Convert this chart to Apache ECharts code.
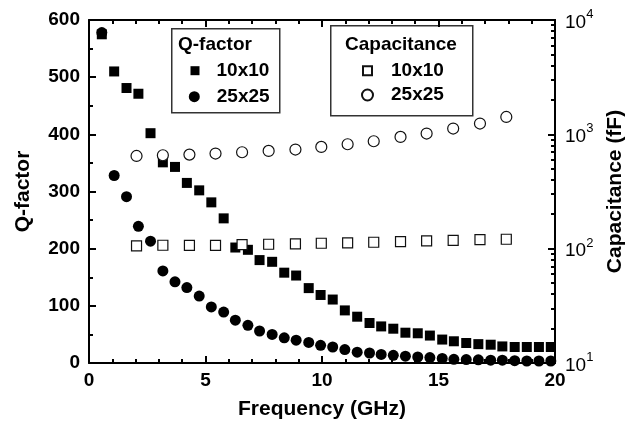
<!DOCTYPE html>
<html>
<head>
<meta charset="utf-8">
<script src="https://cdn.jsdelivr.net/npm/echarts@6/dist/echarts.min.js"></script>
<style>
html,body{margin:0;padding:0;background:#fff;}
#chart{width:635px;height:423px;}
</style>
</head>
<body>
<div id="chart"></div>
<script>
// ---- data ----
const freqQ = [0.55, 1.08, 1.61, 2.12, 2.64, 3.17, 3.69, 4.20, 4.73, 5.25, 5.78, 6.28, 6.82, 7.32, 7.86, 8.38, 8.89, 9.43, 9.94, 10.46,
  10.98, 11.51, 12.04, 12.54, 13.06, 13.58, 14.11, 14.63, 15.16, 15.66, 16.19, 16.71, 17.24, 17.74, 18.27, 18.79, 19.31, 19.82];
const q10 = [575, 510, 481, 471, 402, 351, 343, 315, 302, 281, 253, 202, 198, 180, 177, 158, 153, 131, 119, 111,
  92, 81, 70, 64, 60, 53, 52, 48, 41, 38, 35, 33, 32, 29, 28, 28, 28, 28];
const q25 = [578, 328, 291, 239, 213, 161, 142, 132, 117, 98, 89, 75, 66, 56, 50, 44, 40, 36, 31, 28,
  23.5, 19, 17.5, 15, 13.5, 12, 10.5, 9.5, 8, 6.5, 6, 5.5, 5, 5, 4, 3.5, 3.5, 3.5];
const freqC = [2.04, 3.17, 4.31, 5.43, 6.57, 7.71, 8.86, 9.97, 11.10, 12.22, 13.37, 14.49, 15.63, 16.78, 17.91];
const c10 = [105.6, 107.1, 107, 107, 108.6, 109.3, 110, 111.5, 112.2, 113.8, 115.4, 116.8, 118.4, 120.2, 120.9];
const c25 = [647, 656, 665, 679, 697, 716, 736, 776, 819, 870, 949, 1016, 1124, 1243, 1419];
const xTicks = [0, 5, 10, 15, 20];
const qTicks = [0, 100, 200, 300, 400, 500, 600];
const capDecades = [10, 100, 1000, 10000];

const FONT = "'Liberation Sans', Arial, sans-serif";
const pair = (xs, ys) => xs.map((x, i) => [x, ys[i]]);

// minor log tick positions (in log10 space) for the right axis
const capMinor = [];
for (let d = 0; d < capDecades.length - 1; d++) {
  for (let k = 2; k <= 9; k++) capMinor.push(Math.log10(k * capDecades[d]));
}

const axisLine = { show: true, onZero: false, lineStyle: { color: '#000', width: 2 } };
const majorTick = { show: true, inside: true, length: 7, lineStyle: { color: '#000', width: 2 } };
const minorTick = (n) => ({ show: true, splitNumber: n, length: 4, lineStyle: { color: '#000', width: 2 } });
const labelStyle = { color: '#000', fontFamily: FONT, fontSize: 19, fontWeight: 'bold' };
const nameStyle = { fontFamily: FONT, fontSize: 21, fontWeight: 'bold', color: '#000' };

const chart = echarts.init(document.getElementById('chart'), null, { renderer: 'canvas' });

const option = {
  backgroundColor: '#fff',
  animation: false,
  grid: { left: 89, right: 80, top: 20, bottom: 60, containLabel: false, outerBoundsMode: 'none' },
  title: [
    { text: 'Q-factor', left: 178, top: 35, padding: 0, textStyle: { fontFamily: FONT, fontSize: 19, fontWeight: 'bold', color: '#000' } },
    { text: 'Capacitance', left: 345, top: 35, padding: 0, textStyle: { fontFamily: FONT, fontSize: 19, fontWeight: 'bold', color: '#000' } }
  ],
  graphic: [
    { type: 'rect', left: 171, top: 28, shape: { width: 108, height: 84 }, style: { fill: 'transparent', stroke: '#333', lineWidth: 1.5 }, z: -1 },
    { type: 'rect', left: 330, top: 25, shape: { width: 142, height: 90 }, style: { fill: 'transparent', stroke: '#333', lineWidth: 1.5 }, z: -1 }
  ],
  legend: [
    { data: ['Q 10x10'], left: 190.5, top: 60.7, padding: 0, itemWidth: 9, itemHeight: 9, selectedMode: false,
      formatter: n => n.slice(2), textStyle: { fontFamily: FONT, fontSize: 19, fontWeight: 'bold', color: '#000', lineHeight: 20, padding: [0, 0, 0, 12] } },
    { data: ['Q 25x25'], left: 188.8, top: 86.7, padding: 0, itemWidth: 11, itemHeight: 11, selectedMode: false,
      formatter: n => n.slice(2), textStyle: { fontFamily: FONT, fontSize: 19, fontWeight: 'bold', color: '#000', lineHeight: 20, padding: [0, 0, 0, 12] } },
    { data: ['C 10x10'], left: 362, top: 60.7, padding: 0, itemWidth: 9, itemHeight: 9, selectedMode: false,
      formatter: n => n.slice(2), textStyle: { fontFamily: FONT, fontSize: 19, fontWeight: 'bold', color: '#000', lineHeight: 20, padding: [0, 0, 0, 14] } },
    { data: ['C 25x25'], left: 361, top: 85, padding: 0, itemWidth: 11, itemHeight: 11, selectedMode: false,
      formatter: n => n.slice(2), textStyle: { fontFamily: FONT, fontSize: 19, fontWeight: 'bold', color: '#000', lineHeight: 20, padding: [0, 0, 0, 13] } }
  ],
  xAxis: [
    {
      type: 'value', min: xTicks[0], max: xTicks[xTicks.length - 1], interval: 5, position: 'bottom',
      name: 'Frequency (GHz)', nameLocation: 'middle', nameGap: 36, nameTextStyle: nameStyle,
      axisLine: axisLine, axisTick: majorTick, minorTick: minorTick(5),
      axisLabel: Object.assign({ margin: 8 }, labelStyle),
      splitLine: { show: false }, minorSplitLine: { show: false }
    },
    {
      type: 'value', min: xTicks[0], max: xTicks[xTicks.length - 1], interval: 5, position: 'top',
      axisLine: axisLine, axisTick: majorTick, minorTick: minorTick(5),
      axisLabel: { show: false }, splitLine: { show: false }
    }
  ],
  yAxis: [
    {
      type: 'value', min: qTicks[0], max: qTicks[qTicks.length - 1], interval: 100, position: 'left',
      name: 'Q-factor', nameLocation: 'middle', nameGap: 55, nameRotate: 90, nameTextStyle: nameStyle,
      axisLine: axisLine, axisTick: majorTick, minorTick: minorTick(2),
      axisLabel: Object.assign({ margin: 9 }, labelStyle),
      splitLine: { show: false }
    },
    {
      type: 'log', logBase: 10, min: capDecades[0], max: capDecades[capDecades.length - 1], position: 'right',
      name: 'Capacitance (fF)', nameLocation: 'middle', nameGap: 46, nameRotate: 90, nameTextStyle: nameStyle,
      axisLine: axisLine, axisTick: majorTick,
      axisLabel: {
        margin: 10, color: '#000', fontFamily: FONT,
        formatter: v => '{a|10}{b|' + Math.round(Math.log10(v)) + '}',
        rich: {
          a: { fontFamily: FONT, fontSize: 19, color: '#000', lineHeight: 24, verticalAlign: 'bottom' },
          b: { fontFamily: FONT, fontSize: 13, color: '#000', lineHeight: 14, verticalAlign: 'top' }
        }
      },
      splitLine: { show: false }
    },
    {
      type: 'value', min: Math.log10(capDecades[0]), max: Math.log10(capDecades[capDecades.length - 1]), position: 'right',
      axisLine: axisLine,
      axisTick: { show: true, inside: true, length: 4, customValues: capMinor, lineStyle: { color: '#000', width: 2 } },
      axisLabel: { show: false }, splitLine: { show: false }
    }
  ],
  series: [
    { name: 'Q 10x10', type: 'scatter', xAxisIndex: 0, yAxisIndex: 0, symbol: 'rect', symbolSize: 10,
      itemStyle: { color: '#000', opacity: 1 }, data: pair(freqQ, q10) },
    { name: 'Q 25x25', type: 'scatter', xAxisIndex: 0, yAxisIndex: 0, symbol: 'circle', symbolSize: 11,
      itemStyle: { color: '#000', opacity: 1 }, data: pair(freqQ, q25) },
    { name: 'C 10x10', type: 'scatter', xAxisIndex: 0, yAxisIndex: 1, symbol: 'rect', symbolSize: 10,
      itemStyle: { color: '#fff', borderColor: '#111', borderWidth: 1.2, opacity: 1 }, data: pair(freqC, c10), z: 3 },
    { name: 'C 25x25', type: 'scatter', xAxisIndex: 0, yAxisIndex: 1, symbol: 'circle', symbolSize: 11,
      itemStyle: { color: '#fff', borderColor: '#111', borderWidth: 1.2, opacity: 1 }, data: pair(freqC, c25), z: 3 }
  ]
};
chart.setOption(option);
</script>
</body>
</html>
